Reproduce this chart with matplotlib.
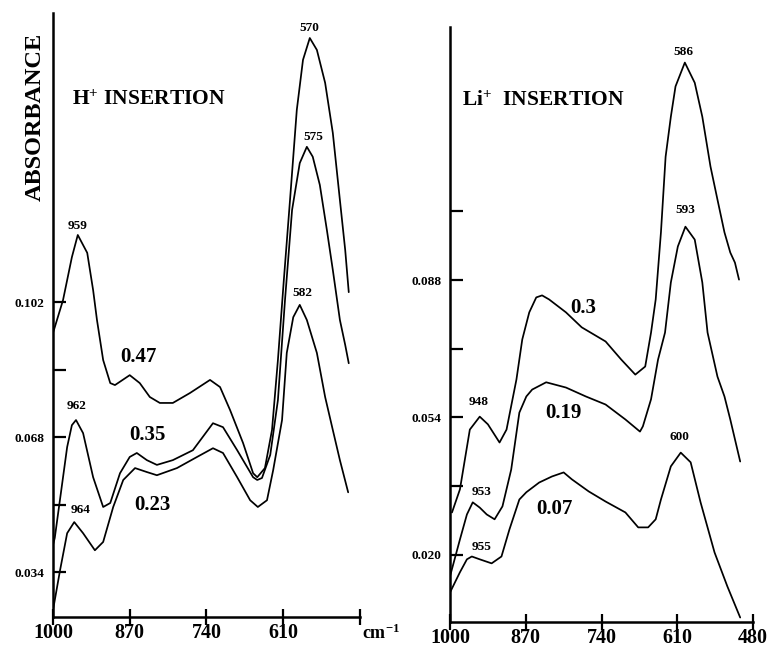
import matplotlib
matplotlib.use("Agg")
import matplotlib.pyplot as plt

plt.rcParams['font.family'] = ['Liberation Serif', 'DejaVu Serif']
plt.rcParams['mathtext.fontset'] = 'custom'
plt.rcParams['mathtext.rm'] = 'Liberation Serif:bold'
plt.rcParams['mathtext.bf'] = 'Liberation Serif:bold'
plt.rcParams['mathtext.it'] = 'Liberation Serif:bold'

# ---------------- H+ insertion (left panel) ----------------
h047_wn = [1000, 983, 968, 958, 942, 932, 925.5, 915, 903, 895, 870, 853, 836, 819, 797, 768,
           734, 717, 700, 678, 661, 654, 641, 629, 619, 609, 598.5, 587, 576.5, 565, 553, 539,
           526, 514, 505, 499]
h047_ab = [0.0942, 0.1025, 0.1133, 0.1189, 0.1144, 0.1050, 0.0975, 0.0874, 0.0816, 0.0811, 0.0836,
           0.0816, 0.0781, 0.0766, 0.0766, 0.0791, 0.0824, 0.0806, 0.0748, 0.0665, 0.0589, 0.0579,
           0.0602, 0.0698, 0.0874, 0.1075, 0.1277, 0.1504, 0.1630, 0.1685, 0.1655, 0.1572, 0.1446,
           0.1277, 0.1151, 0.1045]

h035_wn = [1000, 997, 976, 968, 961, 949, 932, 915, 903, 886.5, 870, 858, 841, 824, 797, 763, 729,
           712, 688, 661, 654, 646, 632, 619, 607, 595, 582, 570, 560, 548, 536, 526, 514, 505, 499]
h035_ab = [0.0408, 0.0426, 0.0655, 0.0710, 0.0723, 0.0690, 0.0579, 0.0504, 0.0514, 0.0589, 0.0630,
           0.0640, 0.0622, 0.0610, 0.0622, 0.0647, 0.0715, 0.0705, 0.0647, 0.0579, 0.0572, 0.0577,
           0.0635, 0.0773, 0.1025, 0.1252, 0.1370, 0.1411, 0.1386, 0.1315, 0.1201, 0.1101, 0.0975,
           0.0912, 0.0866]

h023_wn = [1000, 988, 976, 964, 949, 929, 915, 898, 881, 861, 841, 824, 790, 756, 729, 712, 688,
           666, 653, 637.5, 627, 612, 604, 593, 582, 570, 553, 539, 526, 514, 500]
h023_ab = [0.0244, 0.0345, 0.0438, 0.0466, 0.0438, 0.0395, 0.0416, 0.0504, 0.0572, 0.0602, 0.0592,
           0.0584, 0.0602, 0.0630, 0.0652, 0.0640, 0.0579, 0.0521, 0.0504, 0.0521, 0.0597, 0.0723,
           0.0892, 0.0982, 0.1013, 0.0975, 0.0892, 0.0781, 0.0698, 0.0622, 0.0541]

# ---------------- Li+ insertion (right panel) ----------------
li030_wn = [996.6, 983, 966, 949, 935, 915, 903, 886, 876, 864, 852, 842, 830, 801, 774, 733, 706,
            682, 665, 655, 647, 638, 630, 621, 613, 597, 580, 567, 553, 541, 529, 519, 511, 504]
li030_ab = [0.0305, 0.0362, 0.0510, 0.0542, 0.0523, 0.0478, 0.0510, 0.0634, 0.0733, 0.0800, 0.0837,
            0.0842, 0.0832, 0.0800, 0.0763, 0.0728, 0.0683, 0.0646, 0.0666, 0.0750, 0.0832, 0.0998,
            0.1185, 0.1284, 0.1359, 0.1418, 0.1368, 0.1284, 0.1161, 0.1079, 0.0998, 0.0948, 0.0923,
            0.0881]

li019_wn = [1000, 983, 971, 961, 949, 937, 923.5, 910, 895, 881, 869, 859, 835, 801, 767, 733, 699,
            674, 669, 655, 643, 631, 621, 609, 596, 580, 567, 558, 541, 529, 519, 511, 502]
li019_ab = [0.0147, 0.0238, 0.0300, 0.0330, 0.0317, 0.0300, 0.0288, 0.0320, 0.0411, 0.0552, 0.0592,
            0.0609, 0.0627, 0.0614, 0.0592, 0.0572, 0.0535, 0.0505, 0.0518, 0.0585, 0.0683, 0.0750,
            0.0874, 0.0963, 0.1012, 0.0980, 0.0874, 0.0750, 0.0641, 0.0592, 0.0535, 0.0486, 0.0431]

li007_wn = [1000, 983, 971, 962.6, 949, 928.6, 911.7, 898, 881, 869, 847, 825, 805, 791, 762, 733,
            699, 677, 660, 647, 638, 621, 604, 587, 570, 546, 524, 502]
li007_ab = [0.0107, 0.0157, 0.0189, 0.0196, 0.0189, 0.0179, 0.0196, 0.0263, 0.0337, 0.0355, 0.0379,
            0.0394, 0.0404, 0.0387, 0.0357, 0.0332, 0.0305, 0.0268, 0.0268, 0.0288, 0.0337, 0.0419,
            0.0453, 0.0429, 0.0330, 0.0206, 0.0122, 0.0045]

x_ticks = [1000, 870, 740, 610, 480]
x_labels_left = ['1000', '870', '740', '610', '']
x_labels_right = ['1000', '870', '740', '610', '480']
yL_major = [0.034, 0.068, 0.102]
yL_minor = [0.051, 0.085]
yR_major = [0.020, 0.054, 0.088]
yR_minor = [0.037, 0.071, 0.105]

fig = plt.figure(figsize=(7.69, 6.46), dpi=100)
axL = fig.add_axes([0.0689, 0.0449, 0.3992, 0.935])
axR = fig.add_axes([0.5852, 0.0372, 0.394, 0.921])

LW = 1.25
for wn, ab in [(h047_wn, h047_ab), (h035_wn, h035_ab), (h023_wn, h023_ab)]:
    axL.plot(wn, ab, color='black', lw=LW, solid_joinstyle='round', solid_capstyle='round')
for wn, ab in [(li030_wn, li030_ab), (li019_wn, li019_ab), (li007_wn, li007_ab)]:
    axR.plot(wn, ab, color='black', lw=LW, solid_joinstyle='round', solid_capstyle='round')

axL.set_xlim(1000, 480)
axL.set_ylim(0.0227, 0.1748)
axR.set_xlim(1000, 480)
axR.set_ylim(0.0034, 0.1506)

for ax, xl, ymaj, ymin in [(axL, x_labels_left, yL_major, yL_minor),
                           (axR, x_labels_right, yR_major, yR_minor)]:
    ax.spines['top'].set_visible(False)
    ax.spines['right'].set_visible(False)
    ax.spines['left'].set_linewidth(1.8)
    ax.spines['bottom'].set_linewidth(1.8)
    ax.set_xticks(x_ticks)
    ax.set_xticklabels(xl, fontsize=14.5, fontweight='bold')
    ax.set_yticks(ymaj)
    ax.set_yticklabels([f'{v:.3f}' for v in ymaj], fontsize=9.5, fontweight='bold')
    ax.set_yticks(ymin, minor=True)
    ax.tick_params(axis='x', direction='inout', length=12, width=1.6, pad=-2)
    ax.tick_params(axis='y', which='both', direction='in', length=9, width=1.6, pad=6)
    ax.patch.set_alpha(0)

# texts
bold = dict(fontweight='bold', color='black')
axL.text(-0.059, 0.828, 'ABSORBANCE', transform=axL.transAxes, rotation=90,
         ha='center', va='center', fontsize=17.5, **bold)
axL.text(0.062, 0.856, r'H$^{+}$ INSERTION', transform=axL.transAxes,
         ha='left', va='center', fontsize=15.5, **bold)
axR.text(0.040, 0.876, r'Li$^{+}$  INSERTION', transform=axR.transAxes,
         ha='left', va='center', fontsize=15.5, **bold)
axL.text(1.07, -0.027, r'cm$^{-1}$', transform=axL.transAxes,
         ha='center', va='center', fontsize=13, **bold)

# peak labels (left)
for s, x, y in [('570', 566.3, 0.1710), ('575', 559.6, 0.1436), ('582', 578.2, 0.1043),
                ('959', 957.6, 0.1211), ('962', 959.3, 0.0758), ('964', 952.6, 0.0496)]:
    axL.text(x, y, s, ha='center', va='center', fontsize=9.5, **bold)
for s, x, y in [('0.47', 856, 0.0882), ('0.35', 840.8, 0.0685), ('0.23', 832.3, 0.0509)]:
    axL.text(x, y, s, ha='center', va='center', fontsize=15, **bold)

# peak labels (right)
for s, x, y in [('586', 599.0, 0.1445), ('593', 595.6, 0.1054), ('600', 605.8, 0.0491),
                ('948', 950.7, 0.0577), ('953', 945.6, 0.0355), ('955', 945.6, 0.0219)]:
    axR.text(x, y, s, ha='center', va='center', fontsize=9.5, **bold)
for s, x, y in [('0.3', 770.6, 0.0810), ('0.19', 804.6, 0.0552), ('0.07', 821.6, 0.0313)]:
    axR.text(x, y, s, ha='center', va='center', fontsize=15, **bold)

fig.savefig('out.png', dpi=100, facecolor='white')
